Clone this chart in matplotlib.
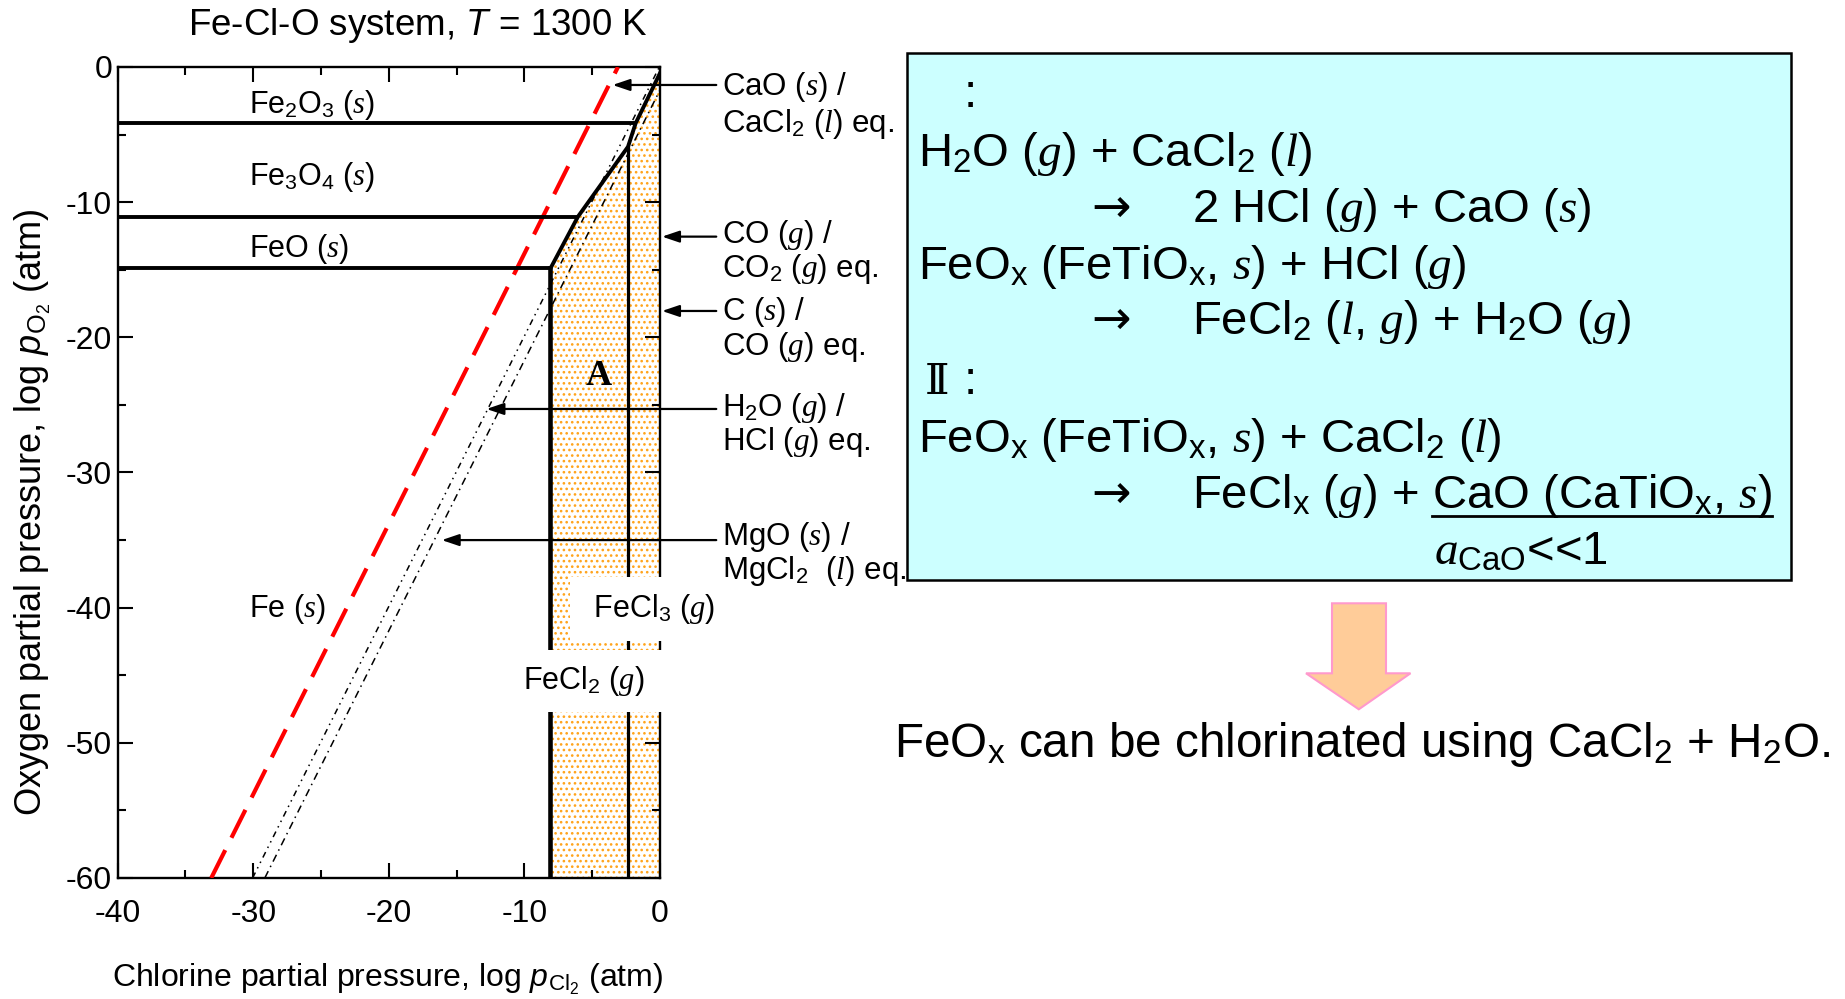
import matplotlib
matplotlib.use("Agg")
import matplotlib.pyplot as plt
from matplotlib.patches import Polygon, Rectangle, FancyArrowPatch
from matplotlib.ticker import MultipleLocator

plt.rcParams['font.family'] = ['Liberation Sans', 'DejaVu Sans']
plt.rcParams['mathtext.fontset'] = 'custom'
plt.rcParams['mathtext.rm'] = 'Liberation Sans'
plt.rcParams['mathtext.it'] = 'Liberation Serif:italic'
plt.rcParams['mathtext.bf'] = 'Liberation Serif:bold'
plt.rcParams['mathtext.sf'] = 'Liberation Sans:italic'
plt.rcParams['axes.unicode_minus'] = False
plt.rcParams['hatch.linewidth'] = 1.1

# ---------------- chart data: x = log p(Cl2), y = log p(O2) ----------------
x_range = (-40, 0)
y_range = (-60, 0)
x_ticks = [-40, -30, -20, -10, 0]
y_ticks = [-60, -50, -40, -30, -20, -10, 0]

# horizontal oxide boundaries: Fe2O3/Fe3O4, Fe3O4/FeO, FeO/Fe
oxide_levels = [-4.17, -11.07, -14.9]
oxide_level_ends = [-1.8, -6.05, -8.08]

# oxide / chloride boundary
chloride_edge_x = [-8.08, -6.05, -2.36, -1.8, 0.0]
chloride_edge_y = [-14.9, -11.07, -5.9, -4.17, -0.45]

# Fe / FeCl2 and FeCl2 / FeCl3 boundaries (vertical)
fecl2_boundary_x = -8.08
fecl2_boundary_top = -14.9
fecl3_boundary_x = -2.36
fecl3_boundary_top = -5.9

# reference equilibria
cao_eq_x = [-33.1, -3.1]
cao_eq_y = [-60, 0]
h2o_eq_x = [-30.05, -0.05]
h2o_eq_y = [-60, 0]
mgo_eq_x = [-29.15, 0.0]
mgo_eq_y = [-60, -1.7]

eq_labels_top = ["CaO ($s$) /", "CO ($g$) /", "C ($s$) /",
                 "H$_2$O ($g$) /", "MgO ($s$) /"]
eq_labels_bottom = ["CaCl$_2$ ($l$) eq.", "CO$_2$ ($g$) eq.", "CO ($g$) eq.",
                    "HCl ($g$) eq.", "MgCl$_2$  ($l$) eq."]
eq_arrow_y = [-1.33, -12.55, -18.05, -25.3, -35.0]
eq_arrow_tip = [-3.5, 0.15, 0.15, -12.8, -16.1]
eq_arrow_tail = 4.15

region_labels = ["Fe$_2$O$_3$ ($s$)", "Fe$_3$O$_4$ ($s$)", "FeO ($s$)", "Fe ($s$)"]
region_label_x = [-30.3, -30.3, -30.3, -30.3]
region_label_y = [-3.4, -8.73, -14.06, -40.7]

# ---------------- figure ----------------
W, H = 1845, 999
fig = plt.figure(figsize=(W / 100, H / 100), dpi=100)

overlay = fig.add_axes([0, 0, 1, 1], zorder=0)
overlay.set_xlim(0, W)
overlay.set_ylim(H, 0)
overlay.axis('off')

ax = fig.add_axes([117.7 / W, 1 - 878 / H, (660 - 117.7) / W, (878 - 67) / H], zorder=1)
ax.set_xlim(x_range)
ax.set_ylim(y_range)

# shaded chloride-stable region
poly_x = [fecl2_boundary_x] + chloride_edge_x + [x_range[1]]
poly_y = [y_range[0]] + chloride_edge_y + [y_range[0]]
ax.fill(poly_x, poly_y, facecolor='white', edgecolor='#ffa31a', hatch='...',
        linewidth=0, zorder=1)

# phase boundaries
for yv, xe in zip(oxide_levels, oxide_level_ends):
    ax.plot([x_range[0], xe], [yv, yv], color='black', lw=2.8,
            solid_capstyle='butt', zorder=3)
ax.plot(chloride_edge_x, chloride_edge_y, color='black', lw=2.8, zorder=3)
ax.plot([fecl2_boundary_x] * 2, [y_range[0], fecl2_boundary_top], color='black',
        lw=3.3, zorder=3)
ax.plot([fecl3_boundary_x] * 2, [y_range[0], fecl3_boundary_top], color='black',
        lw=2.3, zorder=3)

# equilibrium lines
ax.plot(cao_eq_x, cao_eq_y, color='#ff0000', lw=3, dashes=(7.5, 3.3), zorder=2.6)
ax.plot(h2o_eq_x, h2o_eq_y, color='black', lw=1.1, dashes=(4, 3, 1, 3, 1, 3), zorder=2.5)
ax.plot(mgo_eq_x, mgo_eq_y, color='black', lw=1.1, dashes=(5, 3, 1, 3), zorder=2.5)

# arrows pointing to equilibrium lines
for yv, xt in zip(eq_arrow_y, eq_arrow_tip):
    ax.add_patch(FancyArrowPatch((eq_arrow_tail, yv), (xt, yv),
                                 arrowstyle='-|>,head_length=0.65,head_width=0.22',
                                 mutation_scale=16, color='black', lw=1.6,
                                 shrinkA=0, shrinkB=0, clip_on=False, zorder=4))

# region labels
for t, xv, yv in zip(region_labels, region_label_x, region_label_y):
    ax.text(xv, yv, t, fontsize=22, ha='left', va='baseline', zorder=5)
ax.text(-4.5, -23.5, "A", fontsize=26, fontfamily='Liberation Serif',
        fontweight='bold', ha='center', va='baseline', zorder=5)
ax.text(-5.5, -40.7, " FeCl$_3$ ($g$)", fontsize=22, ha='left', va='baseline',
        zorder=10, bbox=dict(boxstyle='square,pad=0.5', fc='white', ec='none'))
ax.text(-10.08, -46.0, "FeCl$_2$ ($g$)  ", fontsize=22, ha='left', va='baseline',
        zorder=10, bbox=dict(boxstyle='square,pad=0.45', fc='white', ec='none'))

# axes styling
ax.set_xticks(x_ticks)
ax.set_yticks(y_ticks)
ax.xaxis.set_minor_locator(MultipleLocator(5))
ax.yaxis.set_minor_locator(MultipleLocator(5))
ax.tick_params(which='both', direction='in', top=True, right=True, width=1.5,
               labelsize=23)
ax.tick_params(which='major', length=11)
ax.tick_params(which='minor', length=6)
ax.tick_params(axis='x', pad=15)
ax.tick_params(axis='y', pad=4)
for s in ax.spines.values():
    s.set_linewidth(1.7)

# titles and axis labels
overlay.text(418, 35, "Fe-Cl-O system, $\\mathsf{T}$ = 1300 K", fontsize=26.5,
             ha='center', va='baseline')
overlay.text(388, 987, "Chlorine partial pressure, log $\\mathsf{p}_{\\mathrm{Cl_2}}$ (atm)",
             fontsize=23, ha='center', va='baseline')
overlay.text(33, 512, "Oxygen partial pressure, log $\\mathsf{p}_{\\mathrm{O_2}}$ (atm)",
             fontsize=26, rotation=90, ha='center', va='center')

# equilibrium labels to the right of the chart
label_base_top = [95, 243, 320, 416, 545]
label_base_bottom = [131.7, 277, 355, 450, 579]
for t1, t2, b1, b2 in zip(eq_labels_top, eq_labels_bottom, label_base_top, label_base_bottom):
    overlay.text(721.7, b1, t1, fontsize=22.5, ha='left', va='baseline')
    overlay.text(721.7, b2, t2, fontsize=22.5, ha='left', va='baseline')

# reaction box
overlay.add_patch(Rectangle((906.5, 53.3), 1791 - 906.5, 580 - 53.3,
                            facecolor='#ccffff', edgecolor='black', lw=1.8, zorder=1))
fs = 34
rx, ax_arrow, rx2 = 918, 1091, 1192
arrow_kw = dict(fontsize=fs, fontfamily='DejaVu Sans', va='baseline', zorder=2)
overlay.text(964, 107, ":", fontsize=fs, ha='left', va='baseline', zorder=2)
overlay.text(rx, 166, "H$_2$O ($g$) + CaCl$_2$ ($l$)", fontsize=fs, va='baseline', zorder=2)
overlay.text(ax_arrow, 222, "\u2192", **arrow_kw)
overlay.text(rx2, 222, "2 HCl ($g$) + CaO ($s$)", fontsize=fs, va='baseline', zorder=2)
overlay.text(rx, 279, "FeO$_\\mathrm{x}$ (FeTiO$_\\mathrm{x}$, $s$) + HCl ($g$)",
             fontsize=fs, va='baseline', zorder=2)
overlay.text(ax_arrow, 334, "\u2192", **arrow_kw)
overlay.text(rx2, 334, "FeCl$_2$ ($l$, $g$) + H$_2$O ($g$)", fontsize=fs,
             va='baseline', zorder=2)
overlay.text(925, 394, "\u2161", fontsize=fs - 4, fontfamily='DejaVu Serif',
             va='baseline', zorder=2)
overlay.text(964, 394, ":", fontsize=fs, va='baseline', zorder=2)
overlay.text(rx, 452, "FeO$_\\mathrm{x}$ (FeTiO$_\\mathrm{x}$, $s$) + CaCl$_2$ ($l$)",
             fontsize=fs, va='baseline', zorder=2)
overlay.text(ax_arrow, 508, "\u2192", **arrow_kw)
overlay.text(rx2, 508, "FeCl$_\\mathrm{x}$ ($g$) +", fontsize=fs, va='baseline', zorder=2)
cao_txt = overlay.text(1432, 508, "CaO (CaTiO$_\\mathrm{x}$, $s$)", fontsize=fs,
                       va='baseline', zorder=2)
overlay.text(1434, 565, "$a_\\mathrm{CaO}$<<1", fontsize=fs, va='baseline', zorder=2)

fig.canvas.draw()
bb = cao_txt.get_window_extent()
inv = overlay.transData.inverted()
(ux0, _), (ux1, _) = inv.transform([[bb.x0, bb.y0], [bb.x1, bb.y1]])
overlay.plot([ux0, ux1], [516, 516], color='black', lw=2, zorder=2)

# down arrow and conclusion
overlay.add_patch(Polygon([(1332, 603.3), (1386, 603.3), (1386, 673.3), (1410.5, 673.3),
                           (1358.8, 709.3), (1306, 673.3), (1332, 673.3)], closed=True,
                          facecolor='#ffcc99', edgecolor='#ff99cc', lw=1.5))
overlay.text(893.5, 757, "FeO$_\\mathrm{x}$ can be chlorinated using CaCl$_2$ + H$_2$O.",
             fontsize=34.3, ha='left', va='baseline')

fig.savefig("out.png", dpi=100)
